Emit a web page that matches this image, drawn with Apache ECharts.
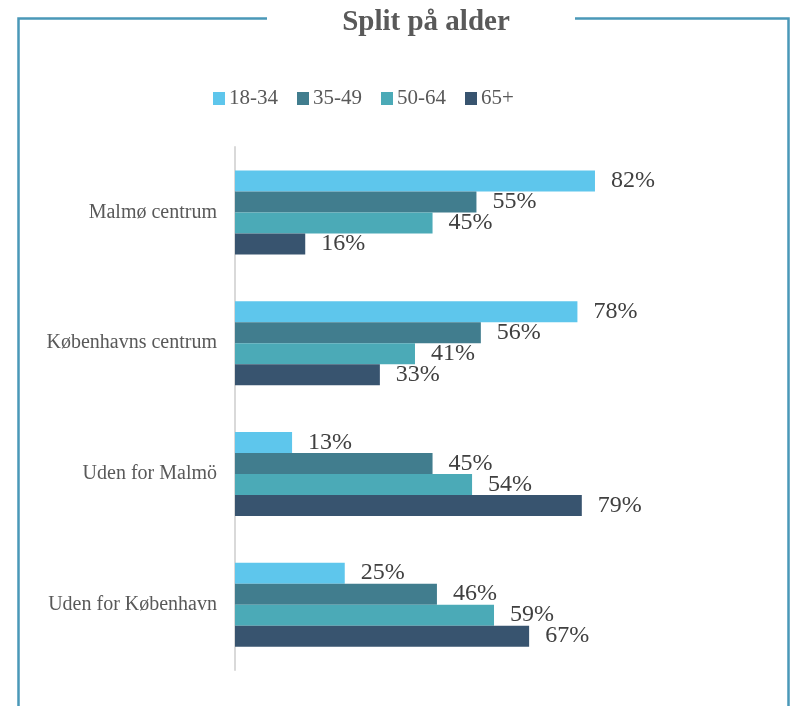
<!DOCTYPE html>
<html>
<head>
<meta charset="utf-8">
<script src="https://cdn.jsdelivr.net/npm/echarts@6/dist/echarts.min.js"></script>
<style>html,body{margin:0;padding:0;background:#fff}#c{width:790px;height:706px}</style>
</head>
<body>
<div id="c"></div>
<script>
const categories = ['Malmø centrum', 'Københavns centrum', 'Uden for Malmö', 'Uden for København'];
const seriesNames = ['18-34', '35-49', '50-64', '65+'];
const s1834 = [82, 78, 13, 25];
const s3549 = [55, 56, 45, 46];
const s5064 = [45, 41, 54, 59];
const s65 = [16, 33, 79, 67];
const colors = ['#5EC6EC', '#417D8E', '#4BAAB7', '#38546F'];
const FONT = '"Liberation Serif", serif';
const dataSets = [s1834, s3549, s5064, s65];

const chart = echarts.init(document.getElementById('c'));
chart.setOption({
  animation: false,
  textStyle: { fontFamily: FONT },
  title: {
    text: 'Split på alder',
    left: 421, top: 3, textAlign: 'center',
    textStyle: { fontFamily: FONT, fontSize: 29, fontWeight: 'bold', color: '#595959' }
  },
  graphic: [
    { type: 'polyline', shape: { points: [[267, 18.5], [18.5, 18.5], [18.5, 706]] }, style: { stroke: '#4A98B8', lineWidth: 2.5, fill: null } },
    { type: 'polyline', shape: { points: [[575, 18.5], [788.5, 18.5], [788.5, 706]] }, style: { stroke: '#4A98B8', lineWidth: 2.5, fill: null } }
  ],
  legend: {
    data: seriesNames,
    left: 208, top: 83,
    itemWidth: 12, itemHeight: 13, itemGap: 19,
    icon: 'rect',
    textStyle: { fontFamily: FONT, fontSize: 21, color: '#595959', padding: [0, 0, 0, -1] }
  },
  grid: { left: 235, right: 116, top: 147, bottom: 36, containLabel: false },
  xAxis: {
    type: 'value', min: 0, max: 100, show: false
  },
  yAxis: {
    type: 'category', data: categories, inverse: true,
    axisLine: { show: true, lineStyle: { color: '#D9D9D9', width: 2 } },
    axisTick: { show: false },
    axisLabel: { fontFamily: FONT, fontSize: 20, color: '#595959', margin: 18 }
  },
  series: seriesNames.map((n, i) => ({
    name: n, type: 'bar', data: dataSets[i],
    barWidth: 21, barGap: '0%',
    itemStyle: { color: colors[i] },
    label: {
      show: true, position: 'right', distance: 16,
      formatter: '{c}%',
      fontFamily: FONT, fontSize: 24, color: '#404040'
    }
  }))
});
</script>
</body>
</html>
